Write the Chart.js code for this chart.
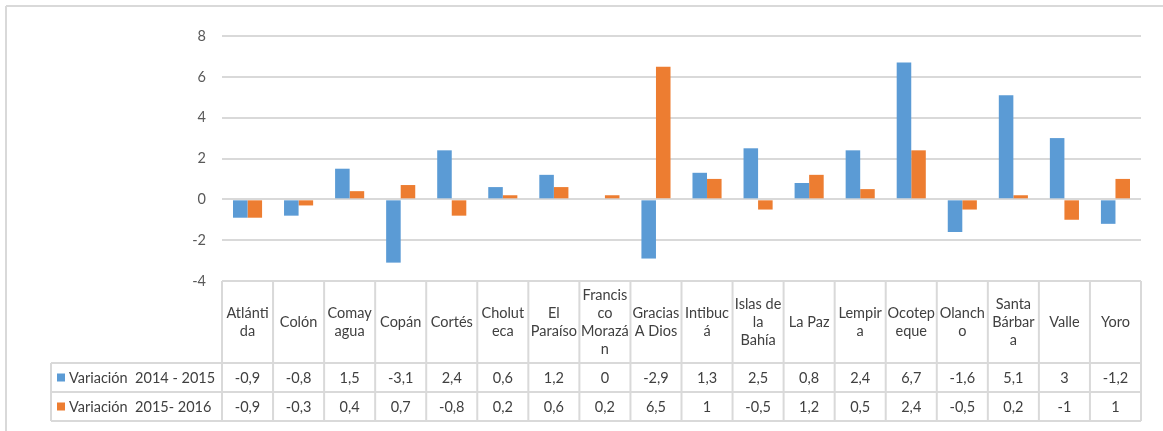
<!DOCTYPE html>
<html>
<head>
<meta charset="utf-8">
<script src="https://cdn.jsdelivr.net/npm/chart.js@4/dist/chart.umd.min.js"></script>
<style>
  html, body { margin: 0; padding: 0; background: #fff; }
  canvas { display: block; }
</style>
</head>
<body>
<canvas id="grafica" width="1163" height="431"></canvas>
<script>
// categorias (con los cortes de linea como en la tabla de Excel)
const departamentos = [
    ['Atlánti', 'da'], ['Colón'], ['Comay', 'agua'], ['Copán'], ['Cortés'],
    ['Cholut', 'eca'], ['El', 'Paraíso'], ['Francis', 'co', 'Morazá', 'n'],
    ['Gracias', 'A Dios'], ['Intibuc', 'á'], ['Islas de', 'la', 'Bahía'],
    ['La Paz'], ['Lempir', 'a'], ['Ocotep', 'eque'], ['Olanch', 'o'],
    ['Santa', 'Bárbar', 'a'], ['Valle'], ['Yoro']
];
const serie1Nombre = 'Variación  2014 - 2015';
const serie2Nombre = 'Variación  2015- 2016';
const var1415 = [-0.9, -0.8, 1.5, -3.1, 2.4, 0.6, 1.2, 0, -2.9, 1.3, 2.5, 0.8, 2.4, 6.7, -1.6, 5.1, 3, -1.2];
const var1516 = [-0.9, -0.3, 0.4, 0.7, -0.8, 0.2, 0.6, 0.2, 6.5, 1, -0.5, 1.2, 0.5, 2.4, -0.5, 0.2, -1, 1];
const yMin = -4, yMax = 8, yStep = 2;

const azul = '#5b9bd5';
const naranja = '#ed7d31';
const gris = '#d9d9d9';
const fuente = 'Lato, "Open Sans", sans-serif';

const fmt = v => String(v).replace('.', ',');

// tabla de datos debajo del grafico
const tablaPlugin = {
    id: 'tabla',
    afterDraw(chart) {
        const ctx = chart.ctx;
        const area = chart.chartArea;
        const xs = chart.scales.x;
        const n = departamentos.length;
        const colW = (area.right - area.left) / n;
        const top = area.bottom;
        const headH = 82, rowH = 29;
        const r1 = top + headH, r2 = r1 + rowH, r3 = r2 + rowH;
        const leftX = 51;

        ctx.save();
        ctx.strokeStyle = gris;
        ctx.lineWidth = 2;
        ctx.beginPath();
        for (let i = 0; i <= n; i++) {
            const x = area.left + i * colW;
            ctx.moveTo(x, top);
            ctx.lineTo(x, r3);
        }
        ctx.moveTo(leftX, r1); ctx.lineTo(area.right, r1);
        ctx.moveTo(leftX, r2); ctx.lineTo(area.right, r2);
        ctx.moveTo(leftX, r3); ctx.lineTo(area.right, r3);
        ctx.moveTo(leftX, r1); ctx.lineTo(leftX, r3);
        // marco exterior
        ctx.moveTo(6, 6); ctx.lineTo(1163, 6);
        ctx.moveTo(6, 6); ctx.lineTo(6, 431);
        ctx.stroke();

        ctx.fillStyle = '#404040';
        ctx.font = '14.5px ' + fuente;
        ctx.textAlign = 'center';
        ctx.textBaseline = 'middle';
        const lh = 18;
        departamentos.forEach((lines, i) => {
            const cx = xs.getPixelForValue(i);
            const cy = top + headH / 2;
            const y0 = cy - (lines.length - 1) * lh / 2;
            lines.forEach((t, k) => ctx.fillText(t, cx, y0 + k * lh));
            ctx.fillText(fmt(var1415[i]), cx, r1 + rowH / 2 + 1);
            ctx.fillText(fmt(var1516[i]), cx, r2 + rowH / 2 + 1);
        });

        ctx.textAlign = 'left';
        ctx.fillStyle = azul;
        ctx.fillRect(57, r1 + rowH / 2 - 4, 8, 8);
        ctx.fillStyle = naranja;
        ctx.fillRect(57, r2 + rowH / 2 - 4, 8, 8);
        ctx.fillStyle = '#404040';
        ctx.fillText(serie1Nombre, 69, r1 + rowH / 2 + 1);
        ctx.fillText(serie2Nombre, 69, r2 + rowH / 2 + 1);
        ctx.restore();
    }
};

const datos = {
    labels: departamentos,
    datasets: [
        {label: serie1Nombre, data: var1415, backgroundColor: azul},
        {label: serie2Nombre, data: var1516, backgroundColor: naranja}
    ]
};

new Chart(document.getElementById('grafica'), {
    type: 'bar',
    data: datos,
    plugins: [tablaPlugin],
    options: {
        responsive: false,
        animation: false,
        layout: {padding: {left: 0, top: 36, right: 22, bottom: 150}},
        datasets: {bar: {categoryPercentage: 0.57, barPercentage: 1}},
        plugins: {legend: {display: false}, tooltip: {enabled: false}},
        scales: {
            x: {display: false},
            y: {
                min: yMin, max: yMax,
                afterFit: s => { s.width = 222; },
                border: {display: false},
                grid: {color: gris, lineWidth: 2, drawTicks: false},
                ticks: {stepSize: yStep, padding: 16, color: '#595959', font: {family: fuente, size: 14.5}}
            }
        }
    }
});
</script>
</body>
</html>
